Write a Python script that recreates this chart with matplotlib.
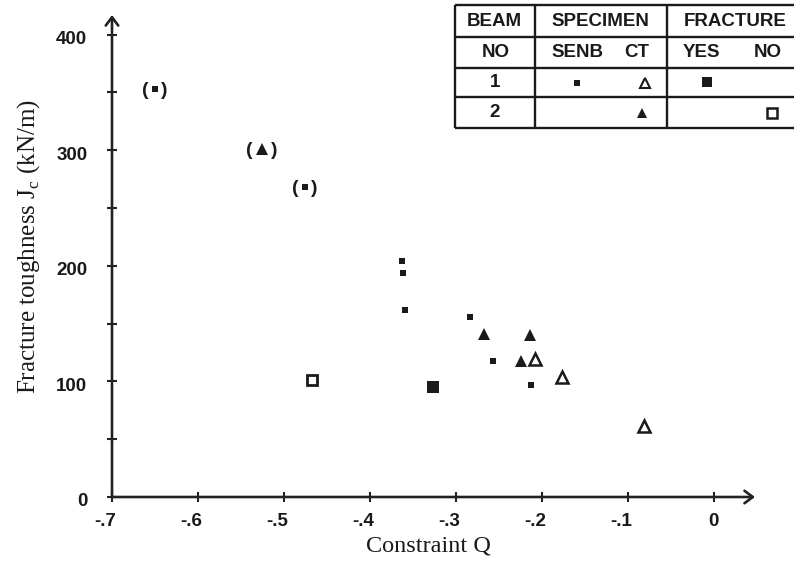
import matplotlib
matplotlib.use("Agg")
import matplotlib.pyplot as plt
from matplotlib.lines import Line2D
from matplotlib.transforms import ScaledTranslation
import numpy as np

# ---------------- data ----------------
senb1_q = [-0.650, -0.476, -0.363, -0.362, -0.359, -0.283, -0.257, -0.212]
senb1_j = [353, 268, 204, 194, 162, 156, 118, 97]
senb1_bracket = [True, True, False, False, False, False, False, False]

ct1_q = [-0.208, -0.177, -0.081]
ct1_j = [119, 104, 61]

ct2_q = [-0.526, -0.267, -0.214, -0.224]
ct2_j = [301, 141, 140, 118]
ct2_bracket = [True, False, False, False]

frac_yes_q = [-0.327]
frac_yes_j = [95]
frac_no_q = [-0.467]
frac_no_j = [101]

x_ticks = [-0.7, -0.6, -0.5, -0.4, -0.3, -0.2, -0.1, 0.0]
x_ticklabels = ["-.7", "-.6", "-.5", "-.4", "-.3", "-.2", "-.1", "0"]
y_ticks = [0, 100, 200, 300, 400]
y_minor = [50, 150, 250, 350]

table_rows = [["BEAM", "SPECIMEN", "FRACTURE"],
              ["NO", "SENB", "CT", "YES", "NO"],
              ["1"], ["2"]]

# ---------------- figure ----------------
W, H = 794, 563
fig = plt.figure(figsize=(W / 100, H / 100), dpi=100)

def fx(px):
    return px / W

def fy(py):
    return 1 - py / H

SANS = "Liberation Sans"
SERIF = "Liberation Serif"
plt.rcParams["mathtext.fontset"] = "custom"
plt.rcParams["mathtext.rm"] = SERIF

x0, x1 = 112, 755
ytop, ybot = 15, 497
ax = fig.add_axes([fx(x0), fy(ybot), (x1 - x0) / W, (ybot - ytop) / H])
ax.set_xlim(-0.7, 0.048)
ax.set_ylim(0, 417)
for s in ax.spines.values():
    s.set_visible(False)
ax.patch.set_visible(False)

ink = "#1a1a1a"

# axes with arrows
arrow = dict(arrowstyle="->,head_length=0.6,head_width=0.45", lw=1.9,
             color="#222222", mutation_scale=10, shrinkA=0, shrinkB=0)
ax.annotate("", xy=(1, 0), xytext=(0, 0), xycoords="axes fraction",
            textcoords="axes fraction", arrowprops=arrow, zorder=1)
ax.annotate("", xy=(0, 1), xytext=(0, 0), xycoords="axes fraction",
            textcoords="axes fraction", arrowprops=arrow, zorder=1)

ax.set_xticks(x_ticks)
ax.set_xticklabels(x_ticklabels, fontfamily=SANS, fontweight="bold",
                   fontsize=13.5, color=ink)
ax.set_yticks(y_ticks)
ax.set_yticks(y_minor, minor=True)
ax.set_yticklabels([str(v) for v in y_ticks], fontfamily=SANS,
                   fontweight="bold", fontsize=13.5, color=ink)
ax.tick_params(axis="both", which="both", direction="inout", length=7.5,
               width=1.5, color="#222222")
ax.tick_params(axis="x", pad=8)
ax.tick_params(axis="y", pad=14)
for lab, t in zip(ax.get_xticklabels(), x_ticklabels):
    if t.startswith("-"):
        lab.set_transform(lab.get_transform() +
                          ScaledTranslation(-7 / 100, 0, fig.dpi_scale_trans))
for lab in ax.get_yticklabels():
    lab.set_transform(lab.get_transform() +
                      ScaledTranslation(0, -3 / 100, fig.dpi_scale_trans))

# data markers
ax.plot(senb1_q, senb1_j, ls="none", marker="s", ms=3.8, color=ink, mew=0, zorder=3, clip_on=False)
ax.plot(ct1_q, ct1_j, ls="none", marker="^", ms=8, mfc="white", mec=ink, mew=1.8, zorder=3, clip_on=False)
ax.plot(ct2_q, ct2_j, ls="none", marker="^", ms=8.5, color=ink, mew=0, zorder=3, clip_on=False)
ax.plot(frac_yes_q, frac_yes_j, ls="none", marker="s", ms=8, color=ink, mew=0, zorder=3, clip_on=False)
ax.plot(frac_no_q, frac_no_j, ls="none", marker="s", ms=7.5, mfc="white", mec=ink, mew=2, zorder=3, clip_on=False)

def brackets(qs, js, flags, half):
    for q, j, f in zip(qs, js, flags):
        if not f:
            continue
        ax.annotate("(", (q, j), xytext=(-half, -1), textcoords="offset points",
                    ha="center", va="center", fontsize=14, fontweight="bold",
                    fontfamily=SANS, color=ink)
        ax.annotate(")", (q, j), xytext=(half, -1), textcoords="offset points",
                    ha="center", va="center", fontsize=14, fontweight="bold",
                    fontfamily=SANS, color=ink)

brackets(senb1_q, senb1_j, senb1_bracket, 7)
brackets(ct2_q, ct2_j, ct2_bracket, 9)

# axis titles
fig.text(fx(29), fy(246), r"Fracture toughness J$_{\mathregular{c}}$ (kN/m)",
         rotation=90, ha="center", va="center", fontsize=18, fontfamily=SERIF,
         color=ink)
fig.text(fx(428), fy(546), "Constraint Q", ha="center", va="center",
         fontsize=17.5, fontfamily=SERIF, color=ink)

# ---------------- legend table ----------------
tl = dict(color=ink, lw=1.7, solid_capstyle="butt")
tx_left, tx_right = 455, 800
row_y = [5, 37, 68, 97, 128]
for yy in row_y:
    fig.add_artist(Line2D([fx(tx_left), fx(tx_right)], [fy(yy), fy(yy)], **tl))
for xx in [455, 535, 667]:
    fig.add_artist(Line2D([fx(xx), fx(xx)], [fy(row_y[0]), fy(row_y[-1])], **tl))

tkw = dict(ha="center", va="center", fontsize=13.5, fontfamily=SANS,
           fontweight="bold", color=ink)
row_c = [21, 52.5, 82.5, 112.5]
for t, xx in zip(table_rows[0], [494, 600, 735]):
    fig.text(fx(xx), fy(row_c[0]), t, **tkw)
for t, xx in zip(table_rows[1], [496, 577, 637, 701, 768]):
    fig.text(fx(xx), fy(row_c[1]), t, **tkw)
fig.text(fx(495), fy(row_c[2]), table_rows[2][0], **tkw)
fig.text(fx(495), fy(row_c[3]), table_rows[3][0], **tkw)

def tmark(px, py, **kw):
    fig.add_artist(Line2D([fx(px)], [fy(py)], ls="none", **kw))

tmark(577, row_c[2], marker="s", ms=3.8, color=ink, mew=0)
tmark(645, row_c[2], marker="^", ms=7, mfc="white", mec=ink, mew=1.5)
tmark(707, row_c[2] - 1, marker="s", ms=7, color=ink, mew=0)
tmark(642, row_c[3], marker="^", ms=7.5, color=ink, mew=0)
tmark(772, row_c[3], marker="s", ms=6.5, mfc="white", mec=ink, mew=1.8)

fig.savefig("out.png", dpi=100)
